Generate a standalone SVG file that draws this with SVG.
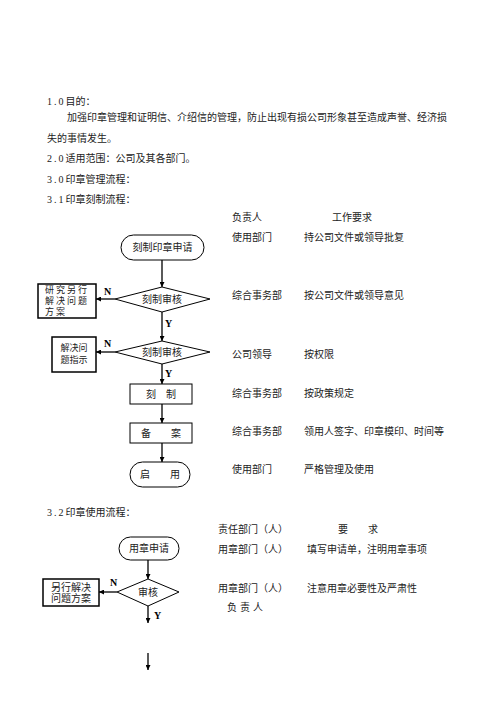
<svg xmlns="http://www.w3.org/2000/svg" width="496" height="702" viewBox="0 0 496 702">
<defs>
<marker id="ah" viewBox="0 0 10 10" refX="10" refY="5" markerWidth="5" markerHeight="5" markerUnits="userSpaceOnUse" orient="auto">
<path d="M0,0 L10,5 L0,10 z" fill="#000"/>
</marker>
</defs>
<style>
text{font-family:"Liberation Serif","Noto Sans CJK SC",serif;font-size:10px;fill:#222;dominant-baseline:central}
.c{text-anchor:middle}
.s{font-size:9px}
.d{letter-spacing:2px}
.b{font-weight:bold;font-size:10px;fill:#000}
.n{fill:#fff;stroke:#000;stroke-width:1}
.k{fill:#fff;stroke:#000;stroke-width:1.5}
.l{stroke:#000;stroke-width:1.3;fill:none;marker-end:url(#ah)}
</style>
<rect width="496" height="702" fill="#fff"/>
<g id="intro">
<text x="47" y="101"><tspan class="d">1.0</tspan>目的：</text>
<text x="67" y="117">加强印章管理和证明信、介绍信的管理，防止出现有损公司形象甚至造成声誉、经济损</text>
<text x="47" y="138">失的事情发生。</text>
<text x="47" y="158"><tspan class="d">2.0</tspan>适用范围：公司及其各部门。</text>
<text x="47" y="179"><tspan class="d">3.0</tspan>印章管理流程：</text>
<text x="47" y="199"><tspan class="d">3.1</tspan>印章刻制流程：</text>
</g>
<g id="table1">
<text x="232" y="217">负责人</text>
<text x="332" y="217">工作要求</text>
<text x="232" y="237">使用部门</text><text x="304" y="237">持公司文件或领导批复</text>
<text x="232" y="295">综合事务部</text><text x="304" y="295">按公司文件或领导意见</text>
<text x="232" y="354">公司领导</text><text x="304" y="354">按权限</text>
<text x="232" y="393">综合事务部</text><text x="304" y="393">按政策规定</text>
<text x="232" y="431">综合事务部</text><text x="304" y="431">领用人签字、印章模印、时间等</text>
<text x="232" y="469">使用部门</text><text x="304" y="469">严格管理及使用</text>
</g>
<g id="connectors1">
<line class="l" x1="162" y1="260" x2="162" y2="287"/>
<line class="l" x1="115" y1="299" x2="96" y2="299"/>
<line class="l" x1="162" y1="312" x2="162" y2="341"/>
<line class="l" x1="115" y1="352" x2="96" y2="352"/>
<line class="l" x1="162" y1="364" x2="162" y2="384"/>
<line class="l" x1="162" y1="404" x2="162" y2="423"/>
<line class="l" x1="162" y1="443" x2="162" y2="462"/>
<text class="b" x="104" y="291">N</text>
<text class="b" x="165" y="323">Y</text>
<text class="b" x="104" y="343">N</text>
<text class="b" x="165" y="373">Y</text>
</g>
<g id="start1">
<rect class="n" x="121" y="235" width="83" height="25" rx="12.5"/>
<text class="c" x="162.5" y="247.5">刻制印章申请</text>
</g>
<g id="review1">
<polygon class="n" points="115,299 162,287 210,299 162,312"/>
<text class="c" x="162" y="299.5">刻制审核</text>
</g>
<g id="alt1">
<rect class="k" x="38" y="284" width="58" height="34"/>
<text class="s" x="45" y="290" letter-spacing="2">研究另行</text>
<text class="s" x="45" y="301" letter-spacing="2">解决问题</text>
<text class="s" x="45" y="312" letter-spacing="2">方案</text>
</g>
<g id="review2">
<polygon class="n" points="115,352 162,341 210,352 162,364"/>
<text class="c" x="162" y="352.5">刻制审核</text>
</g>
<g id="alt2">
<rect class="k" x="52" y="337" width="44" height="35"/>
<text class="c s" x="74" y="348">解决问</text>
<text class="c s" x="74" y="360">题指示</text>
</g>
<g id="carve">
<rect class="n" x="130" y="384" width="62" height="20"/>
<text class="c" x="161" y="394.5">刻　制</text>
</g>
<g id="file">
<rect class="n" x="130" y="423" width="62" height="20"/>
<text class="c" x="161" y="433.5">备　　案</text>
</g>
<g id="use">
<rect class="n" x="130" y="462" width="60" height="25" rx="12.5"/>
<text class="c" x="160" y="474.5">启　　用</text>
</g>
<g id="section2">
<text x="47" y="512"><tspan class="d">3.2</tspan>印章使用流程：</text>
<text x="218" y="529">责任部门（人）</text>
<text x="338" y="529">要</text>
<text x="368" y="529">求</text>
<text x="218" y="549">用章部门（人）</text>
<text x="307" y="549">填写申请单，注明用章事项</text>
<text x="218" y="588">用章部门（人）</text>
<text x="307" y="588">注意用章必要性及严肃性</text>
<text x="227" y="607" letter-spacing="3">负责人</text>
</g>
<g id="connectors2">
<line class="l" x1="148" y1="560" x2="148" y2="579"/>
<line class="l" x1="117" y1="592" x2="99" y2="592"/>
<line class="l" x1="148" y1="606" x2="148" y2="623"/>
<line class="l" x1="148" y1="653" x2="148" y2="670"/>
<text class="b" x="110" y="582">N</text>
<text class="b" x="154" y="615">Y</text>
</g>
<g id="apply">
<rect class="n" x="119" y="537" width="60" height="23" rx="11.5"/>
<text class="c" x="149" y="548.5">用章申请</text>
</g>
<g id="review3">
<polygon class="n" points="117,592 148,579 179,592 148,606"/>
<text class="c" x="148" y="592.5">审核</text>
</g>
<g id="alt3">
<rect class="k" x="43" y="579" width="56" height="27"/>
<text class="c" x="71" y="587">另行解决</text>
<text class="c" x="71" y="598">问题方案</text>
</g>
</svg>
